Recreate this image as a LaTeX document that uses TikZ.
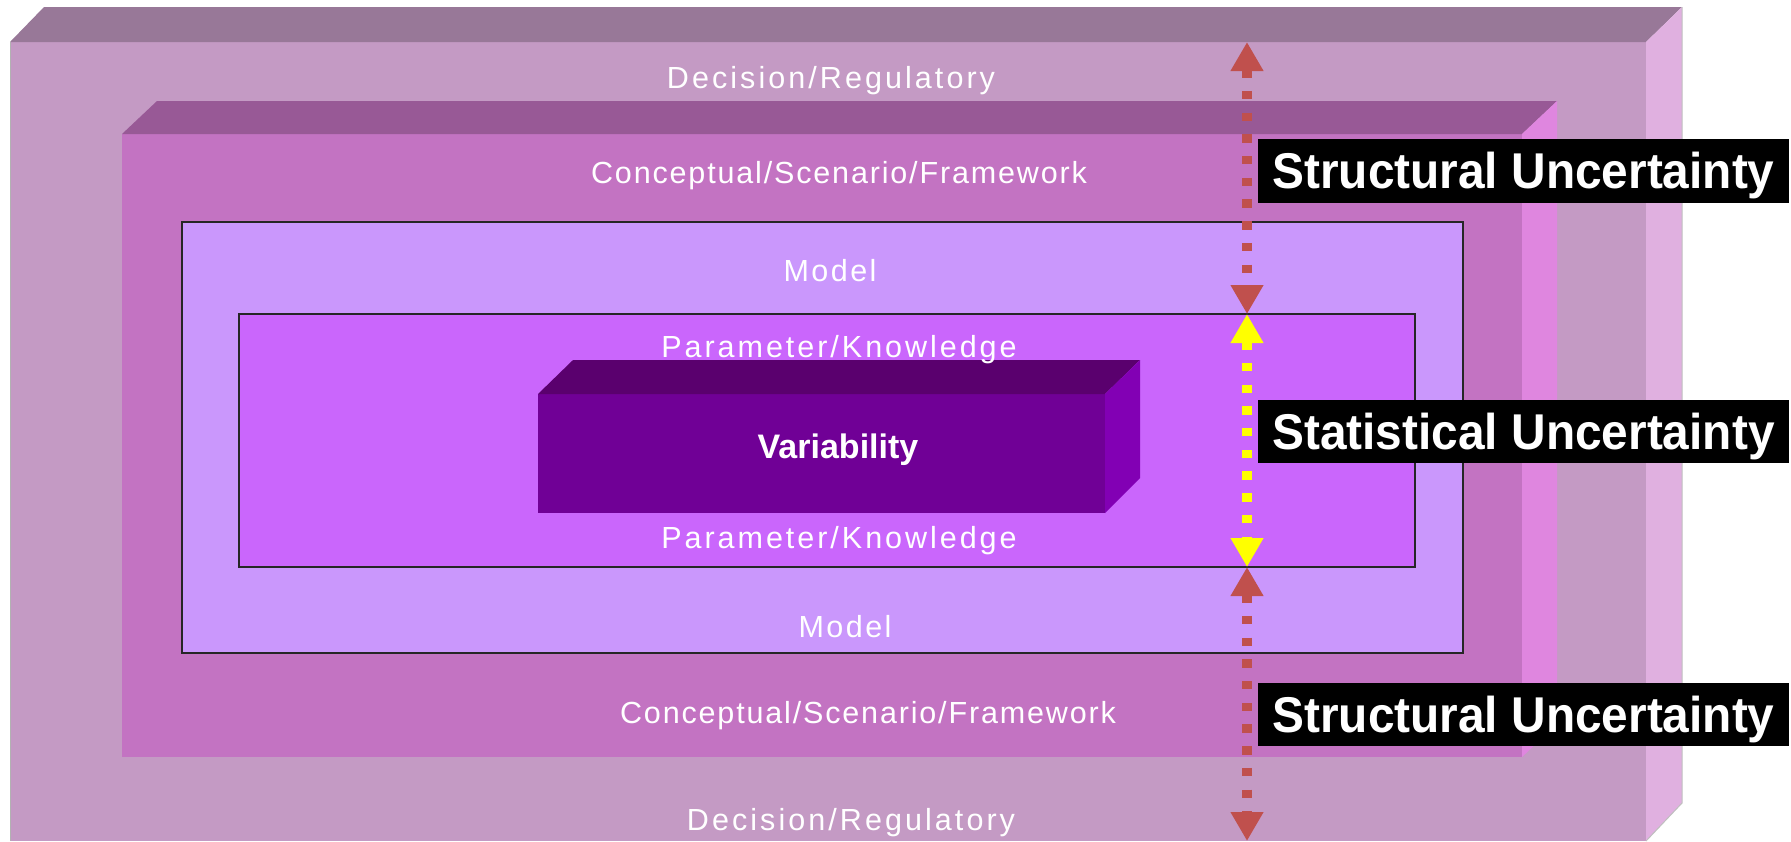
\documentclass[tikz,border=0pt]{standalone}
\usepackage{fontspec}
\setmainfont{Liberation Sans}
\usetikzlibrary{arrows.meta}

% layer colours
\definecolor{decFront}{HTML}{C49AC4}
\definecolor{decTop}{HTML}{987898}
\definecolor{decSide}{HTML}{E0B0E0}
\definecolor{conFront}{HTML}{C373C2}
\definecolor{conTop}{HTML}{985996}
\definecolor{conSide}{HTML}{DF86DF}
\definecolor{modFill}{HTML}{CA97FC}
\definecolor{parFill}{HTML}{CA66FC}
\definecolor{varFront}{HTML}{700096}
\definecolor{varTop}{HTML}{5A006E}
\definecolor{varSide}{HTML}{8200B4}
\definecolor{structArrow}{HTML}{C0504D}
\definecolor{statArrow}{HTML}{FFFF00}

\newcommand{\tracked}[2]{{\addfontfeature{LetterSpace=#1}#2}}

\tikzset{
  layertext/.style={text=white, inner sep=0pt, anchor=base,
    font=\fontsize{8.68pt}{10pt}\selectfont},
  coretext/.style={text=white, inner sep=0pt, anchor=base,
    font=\bfseries\fontsize{9.67pt}{11pt}\selectfont},
  flatbox/.style={draw=black!85, line width=0.025cm},
  uncertainty/.style={fill=black, text=white, inner sep=0pt,
    minimum width=5.31cm, minimum height=0.63cm,
    text height=0.355cm, text depth=0cm,
    font=\bfseries\fontsize{14.3pt}{17pt}\selectfont\addfontfeature{FakeStretch=0.951}},
  dottedarrow/.style={line width=0.1cm,
    dash pattern=on 0.083cm off 0.134cm,
    {Triangle[width=0.31cm,length=0.29cm]}-{Triangle[width=0.31cm,length=0.29cm]}},
}

\begin{document}
\begin{tikzpicture}[x=0.01cm, y=-0.01cm]
\useasboundingbox (0,0) rectangle (1791,841);

% outer slab: Decision/Regulatory
\fill[decFront] (10,42) rectangle (1646,841);
\fill[decTop] (10,42) -- (44,7) -- (1682,7) -- (1646,42) -- cycle;
\fill[decSide] (1646,42) -- (1682,7) -- (1682,803) -- (1646,841) -- cycle;
\draw[black!30, line width=0.01cm] (10,42) -- (10,841);
\draw[black!25, line width=0.01cm] (1682,7) -- (1682,803) -- (1646,841);

% second slab: Conceptual/Scenario/Framework
\fill[conFront] (122,134) rectangle (1522,757);
\fill[conTop] (122,134) -- (157,101) -- (1557,101) -- (1522,134) -- cycle;
\fill[conSide] (1522,134) -- (1557,101) -- (1557,724) -- (1522,757) -- cycle;

% flat frames: Model and Parameter/Knowledge
\filldraw[flatbox, fill=modFill] (182,222) rectangle (1463,653);
\filldraw[flatbox, fill=parFill] (239,314) rectangle (1415,567);

% core block: Variability
\fill[varFront] (538,394) rectangle (1105,513);
\fill[varTop] (538,394) -- (573,360) -- (1140,360) -- (1105,394) -- cycle;
\fill[varSide] (1105,394) -- (1140,360) -- (1140,478) -- (1105,513) -- cycle;

% layer captions
\node[layertext] (decT) at (831,88) {\tracked{10}{Decision/Regulatory}};
\node[layertext] (conT) at (839,183) {\tracked{6}{Conceptual/Scenario/Framework}};
\node[layertext] (modT) at (830,281) {\tracked{8}{Model}};
\node[layertext] (parT) at (839,357) {\tracked{9.7}{Parameter/Knowledge}};
\node[coretext] (var) at (838,458) {Variability};
\node[layertext] (parB) at (839,548) {\tracked{9.7}{Parameter/Knowledge}};
\node[layertext] (modB) at (845,637) {\tracked{8}{Model}};
\node[layertext] (conB) at (868,723) {\tracked{6}{Conceptual/Scenario/Framework}};
\node[layertext] (decB) at (851,830) {\tracked{10}{Decision/Regulatory}};

% span markers along the right-hand side
\coordinate (outerTop) at (1247,42);
\coordinate (parTop) at (1247,314);
\coordinate (parBot) at (1247,567);
\coordinate (outerBot) at (1247,841);
\draw[dottedarrow, structArrow] (outerTop) -- (parTop);
\draw[dottedarrow, statArrow] (parTop) -- (parBot);
\draw[dottedarrow, structArrow] (parBot) -- (outerBot);

% uncertainty labels
\node[uncertainty] (structU) at (1523.5,171) {Structural Uncertainty};
\node[uncertainty] (statU) at (1523.5,431.5) {Statistical Uncertainty};
\node[uncertainty] (structL) at (1523.5,714.5) {Structural Uncertainty};
\end{tikzpicture}
\end{document}
